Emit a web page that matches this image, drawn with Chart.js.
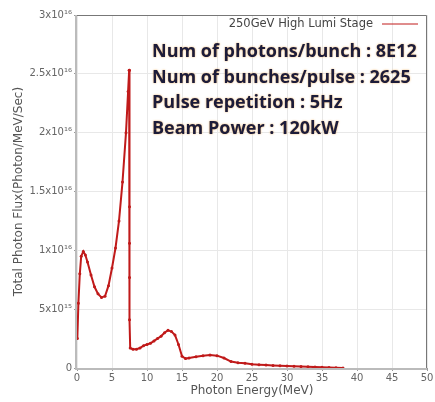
<!DOCTYPE html>
<html>
<head>
<meta charset="utf-8">
<script src="https://cdn.jsdelivr.net/npm/chart.js@4"></script>
<style>
  html, body { margin: 0; padding: 0; background: #fff; }
  #wrap { width: 435px; height: 402px; }
</style>
</head>
<body>
<div id="wrap"><canvas id="myChart" width="435" height="402"></canvas></div>
<script>
// photon energy (MeV) and flux (units of 1e15 photon/MeV/sec)
const energy = [0.05, 0.2, 0.4, 0.6, 0.9, 1.2, 1.5, 2.0, 2.5, 3.0, 3.5, 4.0, 4.5, 5.0, 5.5, 6.0, 6.5, 7.0, 7.3, 7.45,
  7.5, 7.5, 7.5, 7.5, 7.5, 7.6, 8, 8.5, 9, 9.5, 10, 10.5, 11, 11.5, 12, 12.5, 13, 13.5, 14, 14.5, 15, 15.5,
  16, 17, 18, 19, 20, 21, 22, 23, 24, 25, 26, 27, 28, 29, 30, 31, 32, 33, 34, 35, 36, 37, 38];
const flux = [2.5, 5.5, 8.0, 9.5, 9.9, 9.6, 9.0, 7.9, 6.9, 6.3, 6.0, 6.1, 7.0, 8.5, 10.2, 12.5, 15.8, 20.0, 23.5, 25.3,
  25.3, 13.7, 10.6, 7.7, 4.1, 1.7, 1.6, 1.6, 1.7, 1.9, 2.0, 2.1, 2.3, 2.5, 2.7, 3.0, 3.2, 3.1, 2.8, 2.0, 1.0, 0.8,
  0.85, 0.95, 1.05, 1.1, 1.05, 0.85, 0.55, 0.45, 0.4, 0.32, 0.28, 0.25, 0.22, 0.2, 0.17, 0.14, 0.12, 0.1, 0.08, 0.06, 0.04, 0.02, 0.01];
const yTickLabels = { 0: '0', 5e15: '5x10¹⁵', 1e16: '1x10¹⁶', 1.5e16: '1.5x10¹⁶', 2e16: '2x10¹⁶', 2.5e16: '2.5x10¹⁶', 3e16: '3x10¹⁶' };
const seriesName = '250GeV High Lumi Stage';
const infoLines = ['Num of photons/bunch : 8E12', 'Num of bunches/pulse : 2625', 'Pulse repetition : 5Hz', 'Beam Power : 120kW'];

const red = 'rgb(192,26,26)';
const axisFont = { size: 10, family: '"DejaVu Sans"' };
const titleFont = { size: 12, family: '"DejaVu Sans"' };

const overlay = {
  id: 'overlay',
  afterDraw(chart) {
    const { ctx, chartArea: a } = chart;
    ctx.save();
    // frame
    ctx.strokeStyle = '#777';
    ctx.lineWidth = 1;
    ctx.beginPath();
    ctx.moveTo(a.left, a.top + 0.5); ctx.lineTo(a.right - 0.5, a.top + 0.5); ctx.lineTo(a.right - 0.5, a.bottom);
    ctx.stroke();
    ctx.strokeStyle = '#bbb';
    ctx.lineWidth = 2;
    ctx.beginPath();
    ctx.moveTo(a.left - 1, a.top); ctx.lineTo(a.left - 1, a.bottom + 1); ctx.lineTo(a.right, a.bottom + 1);
    ctx.stroke();
    // legend
    ctx.font = '11.5px "DejaVu Sans", sans-serif';
    ctx.fillStyle = '#444';
    ctx.textAlign = 'right';
    ctx.textBaseline = 'middle';
    ctx.fillText(seriesName, 373, 24);
    ctx.strokeStyle = red;
    ctx.lineWidth = 1;
    ctx.beginPath(); ctx.moveTo(382, 24); ctx.lineTo(418, 24); ctx.stroke();
    // beam parameters
    ctx.textAlign = 'left';
    ctx.font = 'bold 18px "Open Sans", sans-serif';
    ctx.shadowColor = 'rgba(235,150,40,0.75)';
    ctx.shadowBlur = 2;
    ctx.fillStyle = '#1c1c3a';
    infoLines.forEach((t, i) => ctx.fillText(t, 152, 52 + i * 25.5));
    ctx.restore();
  }
};

new Chart(document.getElementById('myChart').getContext('2d'), {
  type: 'line',
  data: {
    datasets: [{
      label: seriesName,
      data: energy.map((e, i) => ({ x: e, y: flux[i] * 1e15 })),
      borderColor: red,
      backgroundColor: red,
      borderWidth: 2,
      pointRadius: 1.5,
      pointBorderWidth: 0,
      fill: false,
      tension: 0,
    }],
  },
  options: {
    responsive: false,
    animation: false,
    layout: { padding: { top: 15, right: 8, left: 8, bottom: 0 } },
    plugins: { legend: { display: false }, tooltip: { enabled: false } },
    scales: {
      x: {
        type: 'linear',
        min: 0, max: 50,
        afterFit: s => { s.height = 34; },
        ticks: { stepSize: 5, color: '#666', font: axisFont, padding: 1 },
        grid: { color: '#e8e8e8', tickLength: 3, tickColor: '#999' },
        border: { display: false },
        title: { display: true, text: 'Photon Energy(MeV)', color: '#555', font: titleFont, padding: { top: 0 } },
      },
      y: {
        min: 0, max: 3e16,
        afterFit: s => { s.width = 69; },
        afterBuildTicks: s => { s.ticks = Object.keys(yTickLabels).map(v => ({ value: Number(v) })); },
        ticks: {
          color: '#666', font: axisFont, padding: 2,
          callback: v => yTickLabels[v] ?? '',
        },
        grid: { color: '#e8e8e8', tickLength: 3, tickColor: '#999' },
        border: { display: false },
        title: { display: true, text: 'Total Photon Flux(Photon/MeV/Sec)', color: '#555', font: titleFont, padding: { bottom: 0 } },
      },
    },
  },
  plugins: [overlay],
});
</script>
</body>
</html>
